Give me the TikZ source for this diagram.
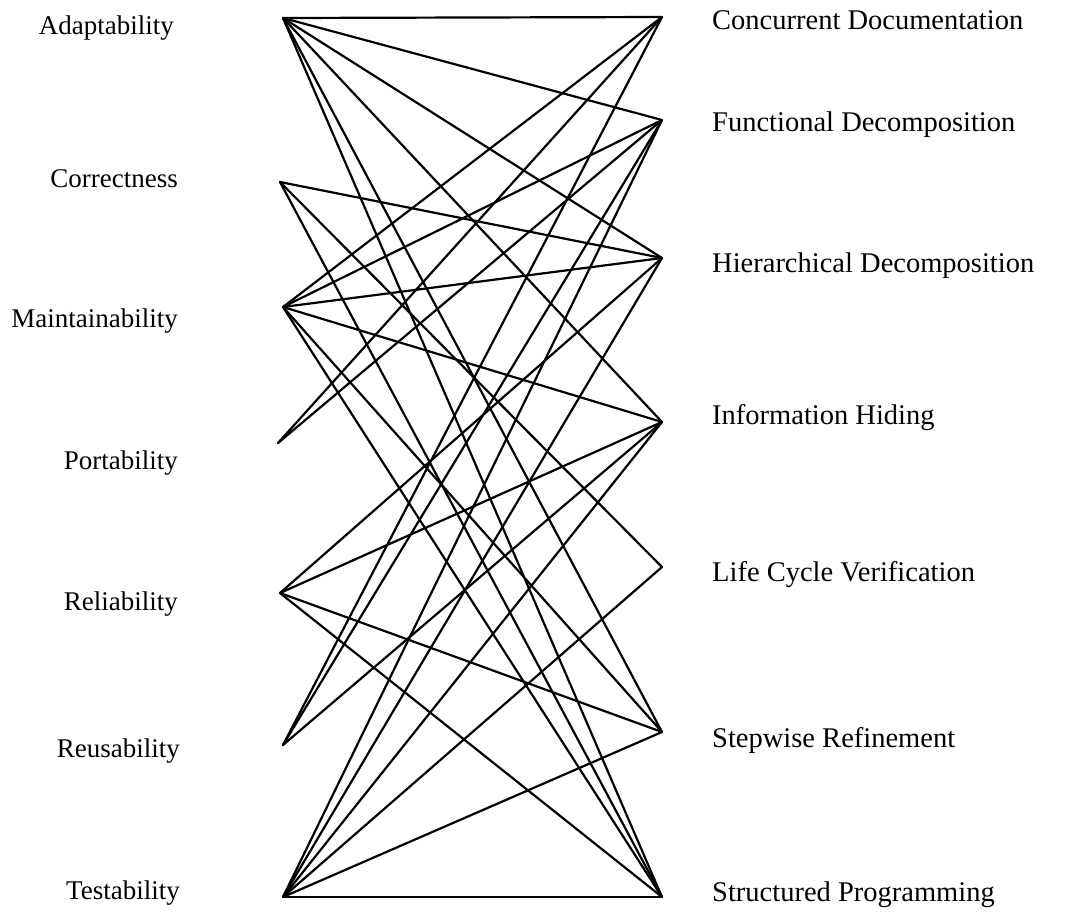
\documentclass[tikz,border=0pt]{standalone}
\usepackage{fontspec}
\setmainfont{Liberation Serif}
\begin{document}
\begin{tikzpicture}[x=1pt,y=-1pt,
  llab/.style={font=\fontsize{27}{31}\selectfont, inner sep=0pt, anchor=base east},
  rlab/.style={font=\fontsize{28.5}{32}\selectfont, inner sep=0pt, anchor=base west},
  link/.style={line width=2.2pt, black, line cap=round, line join=round}]
\useasboundingbox (0,0) rectangle (1069,916);

% attribute ends (left column)
\coordinate (ad) at (283,18);
\coordinate (co) at (280,182);
\coordinate (ma) at (283,307);
\coordinate (po) at (278,443);
\coordinate (rl) at (280,593);
\coordinate (ru) at (283,745);
\coordinate (te) at (283,897);

% principle ends (right column)
\coordinate (cd) at (662,17);
\coordinate (fd) at (662,120);
\coordinate (hd) at (662,258);
\coordinate (ih) at (662,422);
\coordinate (lc) at (662,567);
\coordinate (sr) at (662,732);
\coordinate (sp) at (662,897);

% attribute labels
\node[llab] (tad) at (174,34) {Adaptability};
\node[llab] (tco) at (178,187) {Correctness};
\node[llab] (tma) at (178,327) {Maintainability};
\node[llab] (tpo) at (178,469) {Portability};
\node[llab] (trl) at (178,610) {Reliability};
\node[llab] (tru) at (180,757) {Reusability};
\node[llab] (tte) at (180,899) {Testability};

% principle labels
\node[rlab] (tcd) at (712,29) {Concurrent Documentation};
\node[rlab] (tfd) at (712,131) {Functional Decomposition};
\node[rlab] (thd) at (712,272) {Hierarchical Decomposition};
\node[rlab] (tih) at (712,424) {Information Hiding};
\node[rlab] (tlc) at (712,581) {Life Cycle Verification};
\node[rlab] (tsr) at (712,747) {Stepwise Refinement};
\node[rlab] (tsp) at (712,901) {Structured Programming};

% links between attributes and principles
\foreach \a/\p in {ad/cd, ad/fd, ad/hd, ad/ih, ad/sr, ad/sp,
                   co/hd, co/lc, co/sp,
                   ma/cd, ma/fd, ma/hd, ma/ih, ma/sr, ma/sp,
                   po/cd, po/fd,
                   rl/hd, rl/ih, rl/sr, rl/sp,
                   ru/cd, ru/fd, ru/ih,
                   te/fd, te/hd, te/ih, te/lc, te/sr, te/sp}
  \draw[link] (\a) -- (\p);
\end{tikzpicture}
\end{document}
